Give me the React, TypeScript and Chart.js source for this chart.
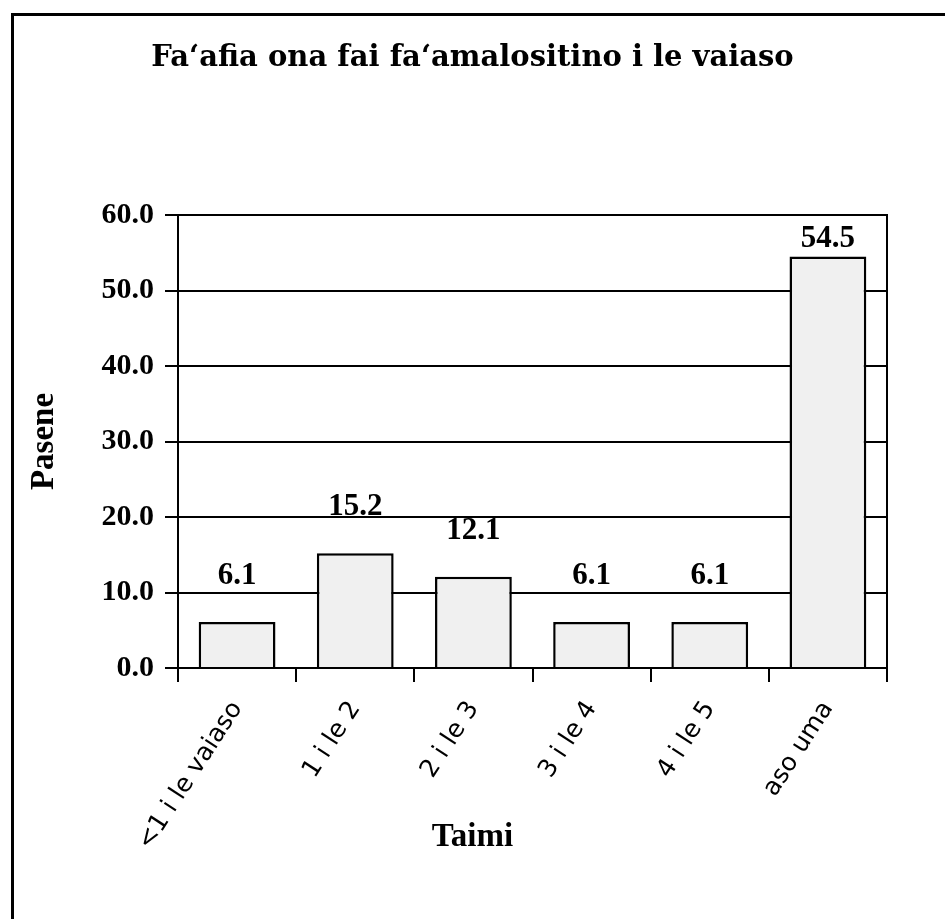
import React, { useEffect, useRef } from "react";
import { Chart, registerables } from "chart.js";

Chart.register(...registerables);

const chartTitle = "Fa\u2018afia ona fai fa\u2018amalositino i le vaiaso";
const xAxisTitle = "Taimi";
const yAxisTitle = "Pasene";
const categories = ["<1 i le vaiaso", "1 i le 2", "2 i le 3", "3 i le 4", "4 i le 5", "aso uma"];
const percentValues = [6.1, 15.2, 12.1, 6.1, 6.1, 54.5];
const yMin = 0;
const yMax = 60;
const yStep = 10;

const W = 945;
const H = 919;
const SERIF = "'Liberation Serif', 'DejaVu Serif', serif";
const WIDE_SERIF = "'DejaVu Serif', 'Liberation Serif', serif";
const LABEL_FONT = "'DejaVu Sans', 'Noto Sans', sans-serif";

const framePlugin = {
  id: "frame",
  beforeDraw(chart: any) {
    const ctx = chart.ctx;
    ctx.save();
    ctx.fillStyle = "#ffffff";
    ctx.fillRect(0, 0, chart.width, chart.height);
    ctx.strokeStyle = "#000000";
    ctx.lineWidth = 3;
    ctx.beginPath();
    ctx.moveTo(12.5, chart.height + 5);
    ctx.lineTo(12.5, 14.5);
    ctx.lineTo(chart.width + 5, 14.5);
    ctx.stroke();
    ctx.restore();
  },
};

const valueLabelPlugin = {
  id: "valueLabels",
  afterDatasetsDraw(chart: any) {
    const ctx = chart.ctx;
    const meta = chart.getDatasetMeta(0);
    const area = chart.chartArea;
    ctx.save();
    ctx.fillStyle = "#000000";
    ctx.font = `bold 31px ${SERIF}`;
    ctx.textAlign = "center";
    ctx.textBaseline = "alphabetic";
    meta.data.forEach((bar: any, i: number) => {
      const v = chart.data.datasets[0].data[i] as number;
      const y = Math.max(bar.y - 38, area.top + 32);
      ctx.fillText(v.toFixed(1), bar.x, y);
    });
    ctx.restore();
  },
};

// subtitle ("Taimi") box: short box at the very bottom, text pulled up with negative top padding
const SUB_LH = 33 * 1.2;
const SUB_PAD_TOP = -52.8;
const SUB_PAD_BOTTOM = 62.2;
const SUB_BOX = SUB_PAD_TOP + SUB_LH + SUB_PAD_BOTTOM;

export default function App() {
  const ref = useRef<HTMLCanvasElement | null>(null);

  useEffect(() => {
    if (!ref.current) return;
    const chart = new Chart(ref.current, {
      type: "bar",
      data: {
        labels: categories,
        datasets: [
          {
            data: percentValues,
            backgroundColor: "#f0f0f0",
            borderColor: "#000000",
            borderWidth: 2.5,
            barPercentage: 0.65,
            categoryPercentage: 1,
          },
        ],
      },
      options: {
        animation: false,
        responsive: false,
        maintainAspectRatio: false,
        layout: { padding: 0 },
        plugins: {
          legend: { display: false },
          tooltip: { enabled: false },
          title: {
            display: true,
            text: chartTitle,
            color: "#000000",
            font: { family: WIDE_SERIF, size: 29, weight: "bold", lineHeight: 1.2 },
            padding: { top: 40.6, bottom: 139.6 },
          },
          subtitle: {
            display: true,
            position: "bottom",
            text: xAxisTitle,
            color: "#000000",
            font: { family: SERIF, size: 33, weight: "bold", lineHeight: 1.2 },
            padding: { top: SUB_PAD_TOP, bottom: SUB_PAD_BOTTOM },
          },
        },
        scales: {
          x: {
            type: "category",
            afterFit(scale: any) {
              scale.height = 919 - 668 - SUB_BOX;
            },
            grid: {
              offset: true,
              drawOnChartArea: false,
              drawTicks: true,
              tickLength: 14,
              color: "#000000",
              lineWidth: 2,
            },
            border: { display: true, color: "#000000", width: 2 },
            ticks: {
              color: "#000000",
              font: { family: LABEL_FONT, size: 25, weight: "normal" },
              minRotation: 57,
              maxRotation: 57,
              padding: 14,
              autoSkip: false,
            },
          },
          y: {
            type: "linear",
            position: "left",
            min: yMin,
            max: yMax,
            afterFit(scale: any) {
              scale.width = 178;
            },
            grid: {
              drawOnChartArea: true,
              drawTicks: true,
              tickLength: 13,
              color: "#000000",
              lineWidth: 2,
            },
            border: { display: true, color: "#000000", width: 2 },
            ticks: {
              stepSize: yStep,
              color: "#000000",
              font: { family: SERIF, size: 30, weight: "bold" },
              padding: 11,
              callback: (v: any) => Number(v).toFixed(1),
            },
            title: {
              display: true,
              text: yAxisTitle,
              color: "#000000",
              font: { family: SERIF, size: 33, weight: "bold", lineHeight: 1.2 },
              padding: { top: 25, bottom: 0 },
            },
          },
          y2: {
            type: "linear",
            position: "right",
            min: yMin,
            max: yMax,
            afterFit(scale: any) {
              scale.width = 58;
            },
            grid: { display: false, drawOnChartArea: false, drawTicks: false },
            border: { display: true, color: "#000000", width: 2 },
            ticks: { display: false },
          },
        },
      },
      plugins: [framePlugin, valueLabelPlugin],
    } as any);
    return () => chart.destroy();
  }, []);

  return (
    <div style={{ position: "fixed", left: 0, top: 0, width: W, height: H, background: "#fff" }}>
      <canvas ref={ref} width={W} height={H} style={{ width: W, height: H, display: "block" }} />
    </div>
  );
}
